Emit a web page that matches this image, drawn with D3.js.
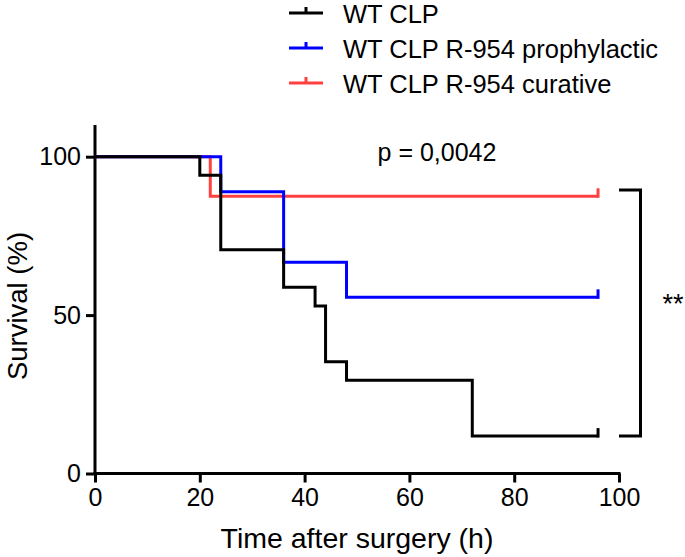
<!DOCTYPE html>
<html>
<head>
<meta charset="utf-8">
<script src="https://cdn.jsdelivr.net/npm/d3@7"></script>
<style>
  html, body { margin: 0; padding: 0; background: #fff; }
  svg { display: block; }
  text { font-family: "Liberation Sans", Arial, Helvetica, sans-serif; fill: #000; }
</style>
</head>
<body>
<svg id="chart" width="685" height="557"></svg>
<script>
// ---- data ----
const seriesNames = ["WT CLP", "WT CLP R-954 prophylactic", "WT CLP R-954 curative"];
const seriesColors = ["#000000", "#0000ff", "#ff4040"];
const wtTimes = [0, 20, 24, 36, 42, 44, 48, 72, 96];
const wtSurvival = [100, 94.1, 70.6, 58.8, 52.9, 35.3, 29.4, 11.8, 11.8];
const prophTimes = [0, 24, 36, 48, 96];
const prophSurvival = [100, 88.9, 66.7, 55.6, 55.6];
const curTimes = [0, 22, 96];
const curSurvival = [100, 87.5, 87.5];
const xTicks = [0, 20, 40, 60, 80, 100];
const yTicks = [0, 50, 100];
const pLabel = "p = 0,0042";
const sigLabel = "**";
const xTitle = "Time after surgery (h)";
const yTitle = "Survival (%)";

const series = [
  { name: seriesNames[0], color: seriesColors[0], pts: wtTimes.map((t, i) => [t, wtSurvival[i]]) },
  { name: seriesNames[1], color: seriesColors[1], pts: prophTimes.map((t, i) => [t, prophSurvival[i]]) },
  { name: seriesNames[2], color: seriesColors[2], pts: curTimes.map((t, i) => [t, curSurvival[i]]) }
];

const svg = d3.select("#chart");
const x = d3.scaleLinear().domain([0, 100]).range([95, 619]);
const y = d3.scaleLinear().domain([0, 110]).range([473.5, 125]);
const lw = 3;

// axes
const xAxis = svg.append("g").attr("transform", `translate(0,${y(0)})`)
  .call(d3.axisBottom(x).tickValues(xTicks).tickSize(9).tickPadding(6).tickSizeOuter(0));
const yAxis = svg.append("g").attr("transform", `translate(${x(0)},0)`)
  .call(d3.axisLeft(y).tickValues(yTicks).tickSize(9).tickPadding(5).tickSizeOuter(0));
[xAxis, yAxis].forEach(g => {
  g.select(".domain").attr("stroke", "#000").attr("stroke-width", lw);
  g.selectAll(".tick line").attr("stroke", "#000").attr("stroke-width", lw);
  g.selectAll(".tick text").attr("font-size", 25).attr("fill", "#000")
    .attr("font-family", "'Liberation Sans', Arial, sans-serif");
});
xAxis.select(".domain").attr("d", `M${x(0) - 1.5},0H${x(100) + 1.5}`);
yAxis.select(".domain").attr("d", `M0,${y(0) + 1.5}V${y(110)}`);

// curves (red, blue, then black on top)
const line = d3.line().x(d => x(d[0])).y(d => y(d[1])).curve(d3.curveStepAfter);
[2, 1, 0].forEach(i => {
  const s = series[i];
  svg.append("path").datum(s.pts).attr("d", line)
    .attr("fill", "none").attr("stroke", s.color).attr("stroke-width", lw)
    .attr("stroke-linejoin", "miter").attr("stroke-linecap", "butt");
  const last = s.pts[s.pts.length - 1];
  svg.append("line")
    .attr("x1", x(last[0])).attr("x2", x(last[0]))
    .attr("y1", y(last[1]) + 1.5).attr("y2", y(last[1]) - 8)
    .attr("stroke", s.color).attr("stroke-width", lw);
});

// legend
const legY = [13, 48, 83];
series.forEach((s, i) => {
  const g = svg.append("g");
  g.append("line").attr("x1", 289).attr("x2", 323).attr("y1", legY[i]).attr("y2", legY[i])
    .attr("stroke", s.color).attr("stroke-width", lw);
  g.append("line").attr("x1", 306).attr("x2", 306).attr("y1", legY[i]).attr("y2", legY[i] - 6)
    .attr("stroke", s.color).attr("stroke-width", lw);
  g.append("text").attr("x", 343).attr("y", legY[i] + 10).attr("font-size", 25.5).text(s.name);
});

// p-value
svg.append("text").attr("x", 437).attr("y", 161).attr("text-anchor", "middle")
  .attr("font-size", 25).text(pLabel);

// bracket
const bx0 = 619, bx1 = 640.5, bTop = y(89.5), bBot = y(11.8);
svg.append("path")
  .attr("d", `M${bx0},${bTop}H${bx1}V${bBot}H${bx0}`)
  .attr("fill", "none").attr("stroke", "#000").attr("stroke-width", lw);
svg.append("text").attr("x", 673).attr("y", 313).attr("text-anchor", "middle")
  .attr("font-size", 27).text(sigLabel);

// axis titles
svg.append("text").attr("x", (x(0) + x(100)) / 2).attr("y", 548).attr("text-anchor", "middle")
  .attr("font-size", 28.5).text(xTitle);
svg.append("text").attr("transform", `translate(27,306) rotate(-90)`)
  .attr("text-anchor", "middle").attr("font-size", 27.5).text(yTitle);
</script>
</body>
</html>
